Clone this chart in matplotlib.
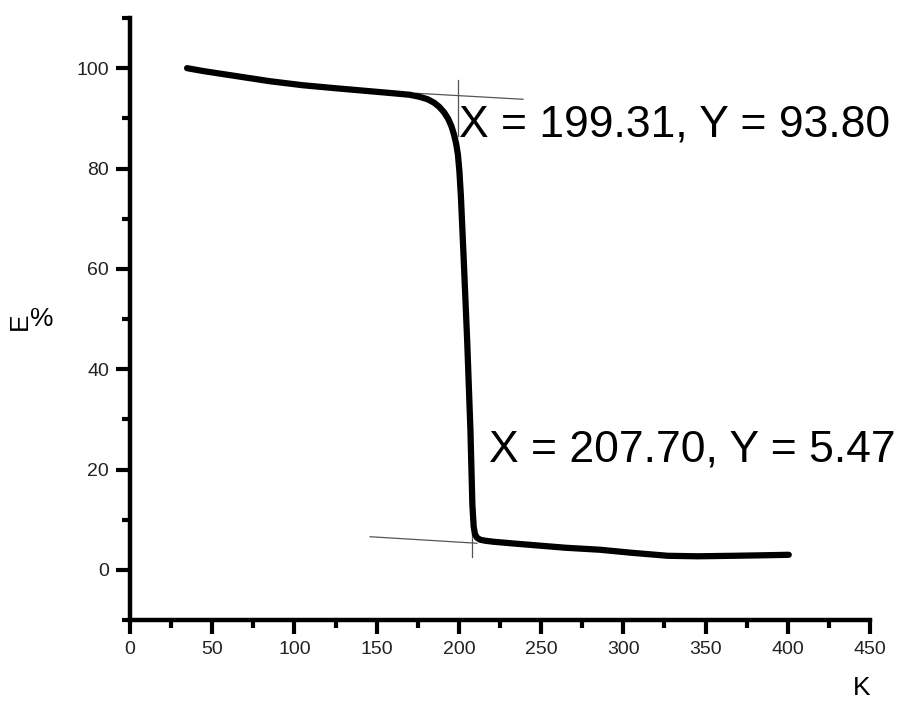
import numpy as np
import matplotlib
matplotlib.use("Agg")
import matplotlib.pyplot as plt
from matplotlib.ticker import MultipleLocator

plt.rcParams['font.family'] = ['Liberation Sans', 'DejaVu Sans']

# curve (K vs E%)
temp_k = [34.7, 45, 65, 85, 105, 125, 146, 160, 170, 176, 181, 185, 188, 191, 193.5,
          195.5, 197, 198.3, 199.4, 200.3, 201.2, 203, 205, 207, 208.2, 209, 209.8,
          211, 213, 216, 221, 235, 250, 265, 286, 305, 327, 345, 367, 385, 400.6]
e_pct = [100, 99.4, 98.4, 97.4, 96.6, 96.0, 95.4, 95.0, 94.7, 94.3, 93.8, 93.1, 92.3, 91.2, 89.9,
         88.4, 86.8, 85.0, 82.8, 79.5, 74.6, 61.4, 46.0, 28.0, 13.0, 8.6, 7.1,
         6.4, 6.0, 5.8, 5.6, 5.2, 4.8, 4.4, 4.0, 3.4, 2.8, 2.7, 2.8, 2.9, 3.0]

# tangent lines and crosshairs
upper_tan_x = [174, 239]
upper_tan_y = [95.0, 93.8]
upper_cross_x = [199.31, 199.31]
upper_cross_y = [97.6, 86.4]
lower_tan_x = [146, 211]
lower_tan_y = [6.6, 5.3]
lower_cross_x = [207.70, 207.70]
lower_cross_y = [14.0, 2.6]

label_hi = "X = 199.31, Y = 93.80"
label_lo = "X = 207.70, Y = 5.47"

fig = plt.figure(figsize=(9.04, 7.02), dpi=100)
ax = fig.add_axes([130/904, 82/702, 740/904, 602/702])

ax.plot(upper_tan_x, upper_tan_y, color='#555555', lw=0.9)
ax.plot(upper_cross_x, upper_cross_y, color='#555555', lw=0.9)
ax.plot(lower_tan_x, lower_tan_y, color='#555555', lw=0.9)
ax.plot(lower_cross_x, lower_cross_y, color='#555555', lw=0.9)
ax.plot(temp_k, e_pct, color='black', lw=4.5, solid_capstyle='round', solid_joinstyle='round')

ax.set_xlim(0, 450)
ax.set_ylim(-10, 110)
ax.set_xticks(range(0, 451, 50))
ax.set_yticks(range(0, 101, 20))
ax.xaxis.set_minor_locator(MultipleLocator(25))
ax.yaxis.set_minor_locator(MultipleLocator(10))

for s in ['top', 'right']:
    ax.spines[s].set_visible(False)
for s in ['left', 'bottom']:
    ax.spines[s].set_linewidth(3.2)
    ax.spines[s].set_capstyle('projecting')

ax.tick_params(which='major', direction='out', length=10, width=3, pad=5,
               labelsize=14, labelcolor='#222222')
ax.tick_params(which='minor', direction='out', length=6, width=3)

ax.text(199.8, 86.4, label_hi, fontsize=32, ha='left', va='baseline')
ax.text(218.5, 21.6, label_lo, fontsize=32, ha='left', va='baseline')

# axis labels
fig.text(870/904, 1 - 700/702, "K", fontsize=19, ha='right', va='bottom')
fig.text(20/904, 1 - 321/702, "E", fontsize=19, rotation=90, ha='center', va='center')
fig.text(42/904, 1 - 319/702, "%", fontsize=19, ha='center', va='center')

fig.savefig("out.png", dpi=100)
